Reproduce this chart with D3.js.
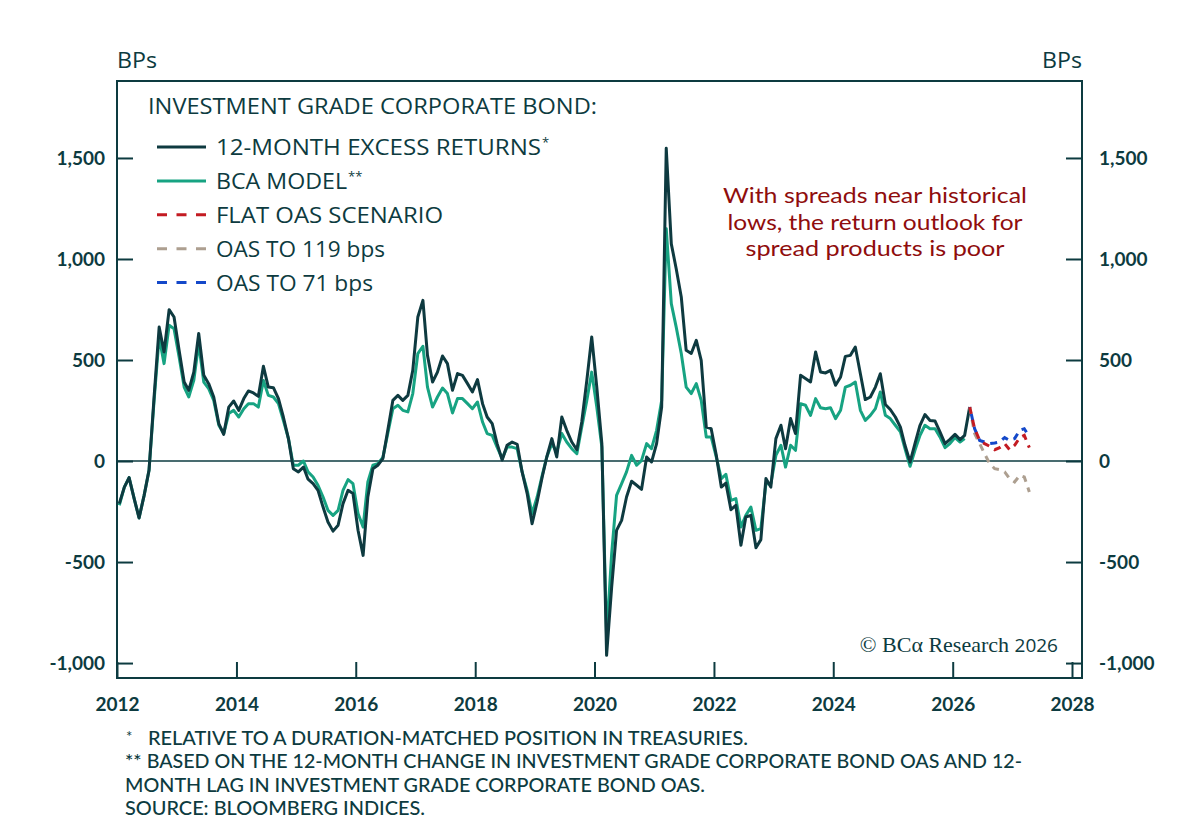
<!DOCTYPE html>
<html>
<head>
<meta charset="utf-8">
<script src="https://cdn.jsdelivr.net/npm/d3@7"></script>
<style>
  body { margin: 0; background: #fff; }
  text { font-family: "Open Sans", Lato, sans-serif; fill: #0d3b40; }
</style>
</head>
<body>
<script>
// monthly data, first point Jan 2012
const startYear = 2012;
const startMonth = 0;

const excessReturns = [
  -211, -129, -82, -186, -282, -170, -46, 317, 663, 540, 749, 713,
  548, 391, 350, 440, 631, 424, 383, 317, 185, 132, 267, 297,
  251, 309, 347, 337, 320, 469, 366, 363, 309, 218, 111, -38,
  -54, -30, -90, -112, -145, -228, -302, -347, -318, -211, -145, -161,
  -343, -467, -178, -38, -21, 12, 152, 300, 325, 300, 325, 449,
  713, 795, 523, 391, 440, 520, 482, 350, 433, 424, 383, 342,
  403, 284, 218, 185, 86, 5, 78, 94, 83, -54, -161, -310,
  -203, -79, 20, 111, 20, 218, 152, 94, 56, 193, 399, 614,
  366, 86, -962, -624, -343, -294, -178, -100, -120, -140, 20, -5,
  86, 267, 1548, 1075, 952, 812, 548, 532, 597, 498, 168, 160,
  30, -129, -109, -241, -219, -417, -277, -269, -429, -389, -87, -129,
  111, 177, 61, 210, 136, 424, 408, 391, 540, 441, 436, 449,
  375, 416, 518, 523, 564, 432, 304, 317, 366, 432, 280, 255,
  218, 168, 78, -5, 86, 177, 230, 201, 198, 144, 86, 107,
  132, 106, 127, 267
];

const bcaModel = [
  -219, -129, -82, -186, -282, -170, -46, 300, 614, 482, 672, 655,
  515, 366, 317, 399, 581, 391, 358, 300, 177, 136, 235, 251,
  218, 259, 284, 284, 267, 399, 325, 317, 284, 201, 111, -21,
  -21, 0, -54, -79, -120, -178, -244, -269, -244, -145, -92, -112,
  -260, -327, -104, -21, -13, 18, 136, 259, 276, 251, 243, 334,
  532, 568, 366, 267, 317, 361, 334, 238, 309, 309, 284, 259,
  292, 193, 136, 127, 69, 12, 69, 69, 61, -54, -145, -260,
  -178, -71, 20, 86, 45, 136, 94, 61, 36, 168, 300, 440,
  267, 69, -871, -458, -170, -112, -54, 28, -21, 3, 86, 61,
  152, 300, 1150, 779, 663, 532, 366, 334, 383, 300, 119, 119,
  20, -87, -66, -195, -186, -327, -269, -228, -343, -335, -112, -112,
  28, 78, -30, 78, 53, 284, 276, 226, 309, 264, 259, 264,
  210, 251, 366, 375, 391, 251, 201, 226, 259, 342, 226, 210,
  177, 144, 61, -26, 53, 127, 177, 160, 160, 119, 66, 86,
  116, 94, 111
];

// scenarios, first point Apr 2026 (last actual)
const scenarioStart = 171;
const flatOas = [267, 160, 102, 86, 73, 56, 66, 86, 56, 78, 116, 127, 66];
const oasTo119 = [267, 136, 86, 36, -13, -38, -43, -54, -87, -104, -71, -79, -153];
const oasTo71 = [267, 160, 102, 94, 86, 89, 94, 116, 102, 111, 152, 160, 120];

const yearTicks = [2012, 2014, 2016, 2018, 2020, 2022, 2024, 2026, 2028];
const bpTicks = [-1000, -500, 0, 500, 1000, 1500];

const legendItems = [
  { label: "12-MONTH EXCESS RETURNS", sup: "*", color: "#0e3a40", dash: null, w: 325 },
  { label: "BCA MODEL", sup: "**", color: "#17a382", dash: null, w: 131 },
  { label: "FLAT OAS SCENARIO", sup: "", color: "#c31b22", dash: "10,9.5", w: 227 },
  { label: "OAS TO 119 bps", sup: "", color: "#ad9f90", dash: "10,9.5", w: 169 },
  { label: "OAS TO 71 bps", sup: "", color: "#1448c9", dash: "10,9.5", w: 157 },
];

const note = [
  { text: "With spreads near historical", w: 304 },
  { text: "lows, the return outlook for", w: 295 },
  { text: "spread products is poor", w: 259 },
];

const footnotes = [
  { text: "RELATIVE TO A DURATION-MATCHED POSITION IN TREASURIES.", mark: "*", x: 148, w: 600 },
  { text: "** BASED ON THE 12-MONTH CHANGE IN INVESTMENT GRADE CORPORATE BOND OAS AND 12-", mark: "", x: 125, w: 897 },
  { text: "MONTH LAG IN INVESTMENT GRADE CORPORATE BOND OAS.", mark: "", x: 125, w: 580 },
  { text: "SOURCE: BLOOMBERG INDICES.", mark: "", x: 125, w: 300 },
];

const width = 1200;
const height = 830;
const mLeft = 117, mRight = 1082, mTop = 81, mBottom = 678;
const ink = "#0d3b40";

const svg = d3
  .select("body")
  .append("svg")
  .attr("width", width)
  .attr("height", height);

const x = d3
  .scaleTime()
  .domain([new Date(2012, 0, 1), new Date(2028, 0, 1)])
  .range([mLeft, 1072]);

const y = d3.scaleLinear().domain([-1074, 1881]).range([mBottom, mTop]);

const monthDate = (i) => new Date(startYear, startMonth + i, 15);

const fmt = (v) => d3.format(",")(v).replace("\u2212", "-");

// frame
svg
  .append("rect")
  .attr("x", mLeft)
  .attr("y", mTop)
  .attr("width", mRight - mLeft)
  .attr("height", mBottom - mTop)
  .attr("fill", "none")
  .attr("stroke", ink)
  .attr("stroke-width", 2);

// axes
const xAxis = d3
  .axisBottom(x)
  .tickValues(yearTicks.map((yr) => new Date(yr, 0, 1)))
  .tickFormat(d3.timeFormat("%Y"))
  .tickSize(-16)
  .tickPadding(20);

const gx = svg.append("g").attr("transform", `translate(0,${mBottom})`).call(xAxis);

const yLeft = d3.axisLeft(y).tickValues(bpTicks).tickFormat(fmt).tickSize(-16).tickPadding(12);
const yRight = d3.axisRight(y).tickValues(bpTicks).tickFormat(fmt).tickSize(-16).tickPadding(17);

const gl = svg.append("g").attr("transform", `translate(${mLeft},0)`).call(yLeft);
const gr = svg.append("g").attr("transform", `translate(${mRight},0)`).call(yRight);

[gx, gl, gr].forEach((g) => {
  g.select(".domain").remove();
  g.selectAll(".tick line").attr("stroke", ink).attr("stroke-width", 2);
  g.selectAll(".tick text")
    .attr("fill", ink)
    .style("font-family", "Lato, sans-serif")
    .style("font-size", "19px")
    .style("font-weight", "700");
});

// zero line
svg
  .append("line")
  .attr("x1", mLeft)
  .attr("x2", mRight)
  .attr("y1", y(0))
  .attr("y2", y(0))
  .attr("stroke", ink)
  .attr("stroke-width", 1.6);

// units
svg
  .append("text")
  .attr("x", mLeft)
  .attr("y", 68)
  .attr("textLength", 40)
  .attr("lengthAdjust", "spacingAndGlyphs")
  .style("font-size", "21px")
  .style("font-weight", "500")
  .text("BPs");
svg
  .append("text")
  .attr("x", mRight - 40)
  .attr("y", 68)
  .attr("textLength", 40)
  .attr("lengthAdjust", "spacingAndGlyphs")
  .style("font-size", "21px")
  .style("font-weight", "500")
  .text("BPs");

// lines
const line = d3
  .line()
  .x((d) => x(d.date))
  .y((d) => y(d.value));

const toSeries = (arr, offset) =>
  arr.map((v, i) => ({ date: monthDate(offset + i), value: v }));

const plot = svg.append("g");

plot
  .append("path")
  .datum(toSeries(bcaModel, 0))
  .attr("d", line)
  .attr("fill", "none")
  .attr("stroke", legendItems[1].color)
  .attr("stroke-width", 3)
  .attr("stroke-linejoin", "round");

plot
  .append("path")
  .datum(toSeries(excessReturns, 0))
  .attr("d", line)
  .attr("fill", "none")
  .attr("stroke", legendItems[0].color)
  .attr("stroke-width", 3)
  .attr("stroke-linejoin", "round");

[
  [oasTo119, legendItems[3].color, 0],
  [oasTo71, legendItems[4].color, 6],
  [flatOas, legendItems[2].color, 0],
].forEach(([arr, color, offset]) => {
  plot
    .append("path")
    .datum(toSeries(arr, scenarioStart))
    .attr("d", line)
    .attr("fill", "none")
    .attr("stroke", color)
    .attr("stroke-width", 3)
    .attr("stroke-dasharray", "7,6")
    .attr("stroke-dashoffset", offset);
});

// legend
const legend = svg.append("g");
legend
  .append("text")
  .attr("x", 148)
  .attr("y", 114)
  .attr("textLength", 449)
  .attr("lengthAdjust", "spacingAndGlyphs")
  .style("font-size", "21px")
  .style("font-weight", "500")
  .text("INVESTMENT GRADE CORPORATE BOND:");

legendItems.forEach((item, i) => {
  const ly = 147 + i * 33.9;
  legend
    .append("line")
    .attr("x1", 157)
    .attr("x2", 206)
    .attr("y1", ly)
    .attr("y2", ly)
    .attr("stroke", item.color)
    .attr("stroke-width", 3)
    .attr("stroke-dasharray", item.dash);
  legend
    .append("text")
    .attr("x", 216)
    .attr("y", ly + 8)
    .attr("textLength", item.w)
    .attr("lengthAdjust", "spacingAndGlyphs")
    .style("font-size", "21px")
    .style("font-weight", "500")
    .text(item.label);
  if (item.sup) {
    legend
      .append("text")
      .attr("x", 216 + item.w + 1)
      .attr("y", ly)
      .style("font-size", "13px")
      .text(item.sup);
  }
});

// annotation
svg
  .append("g")
  .selectAll("text")
  .data(note)
  .join("text")
  .attr("x", (d) => 875 - d.w / 2)
  .attr("y", (d, i) => 203 + i * 26.7)
  .attr("textLength", (d) => d.w)
  .attr("lengthAdjust", "spacingAndGlyphs")
  .style("font-family", "Lato, sans-serif")
  .style("font-size", "22px")
  .style("font-weight", "400")
  .style("fill", "#8f0d0d")
  .text((d) => d.text);

// copyright
const copy = svg
  .append("text")
  .attr("x", 1058)
  .attr("y", 652)
  .attr("text-anchor", "end");
copy
  .append("tspan")
  .style("font-family", "'Liberation Serif', 'DejaVu Serif', serif")
  .style("font-size", "22px")
  .text("\u00a9 BC\u03b1 Research ");
copy
  .append("tspan")
  .style("font-family", "'Open Sans', sans-serif")
  .style("font-size", "19px")
  .text("2026");

// footnotes
footnotes.forEach((f, i) => {
  const fy = 745 + i * 23.3;
  if (f.mark) {
    svg
      .append("text")
      .attr("x", 126)
      .attr("y", fy - 3)
      .style("font-family", "Lato, sans-serif")
      .style("font-size", "15px")
      .text(f.mark);
  }
  svg
    .append("text")
    .attr("x", f.x)
    .attr("y", fy)
    .attr("textLength", f.w)
    .attr("lengthAdjust", "spacingAndGlyphs")
    .style("font-family", "Lato, sans-serif")
    .style("font-size", "19px")
    .style("font-weight", "500")
    .text(f.text);
});
</script>
</body>
</html>
